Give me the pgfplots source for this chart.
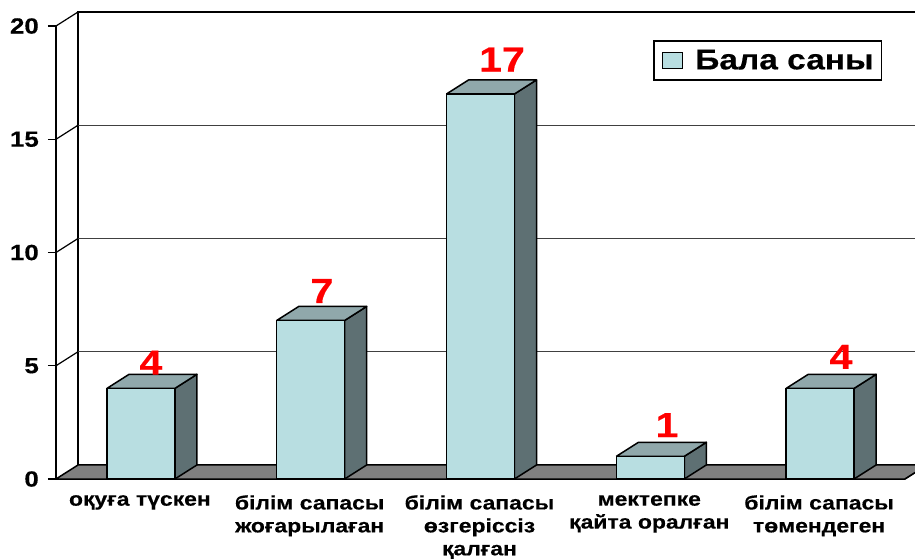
\documentclass[border=0pt]{standalone}
\usepackage{fontspec}
\setmainfont[FakeStretch=1.18,BoldFont={Liberation Sans Bold},BoldFeatures={FakeStretch=1.18,FakeBold=0.4}]{Liberation Sans}
\usepackage{pgfplots}
\usepackage{pgfplotstable}
\pgfplotsset{compat=1.18}

\definecolor{barfront}{HTML}{B8DEE1}
\definecolor{bartop}{HTML}{90A8AB}
\definecolor{barside}{HTML}{5E7073}
\definecolor{floorgray}{HTML}{808080}

% bar values
\pgfplotstableread{
x   value
0.5 4
1.5 7
2.5 17
3.5 1
4.5 4
}\bardata

% where the red value labels sit
\pgfplotstableread{
x     y     value
0.559 5.14  4
1.566 8.30  7
2.627 18.52 17
3.598 2.38  1
4.623 5.39  4
}\labeldata

% depth of the fake 3d: 22px across, 14px up
\newcommand{\dx}{0.13}
\newcommand{\dy}{0.62}

% side and top faces of one bar: centre, value
\newcommand{\barfaces}[2]{
  \addplot[forget plot,fill=barside,draw=black,line width=1.5bp,line join=round] coordinates {
    ({#1+0.2},0) ({#1+0.2+\dx},\dy) ({#1+0.2+\dx},{#2+\dy}) ({#1+0.2},#2) ({#1+0.2},0)};
  \addplot[forget plot,fill=bartop,draw=black,line width=1.5bp,line join=round] coordinates {
    ({#1-0.2},#2) ({#1-0.2+\dx},{#2+\dy}) ({#1+0.2+\dx},{#2+\dy}) ({#1+0.2},#2) ({#1-0.2},#2)};
}

\begin{document}
\begin{tikzpicture}
\path[use as bounding box] (-56bp,-80bp) rectangle (859bp,479bp);
\begin{axis}[
    scale only axis,
    width=849bp,
    height=453bp,
    xmin=0, xmax=5,
    ymin=0, ymax=20,
    clip=false,
    axis x line*=bottom,
    axis y line*=left,
    axis line style={line width=1.5bp},
    font=\bfseries,
    xtick={0.5,1.5,2.5,3.5,4.5},
    xticklabels={{оқуға түскен},{білім сапасы\\жоғарылаған},{білім сапасы\\өзгеріссіз\\қалған},{мектепке\\қайта оралған},{білім сапасы\\төмендеген}},
    minor xtick={0,1,2,3,4,5},
    ytick={0,5,10,15,20},
    tick align=outside,
    major tick length=8bp,
    minor tick length=6bp,
    xtick style={draw=none},
    ytick style={line width=1.2bp,black},
    minor tick style={line width=1.2bp,black},
    /pgf/number format/assume math mode=true,
    x tick label style={font=\fontsize{19.5}{23}\selectfont\bfseries,align=center,text width=168bp,anchor=north,yshift=-8bp,xshift=-1bp,inner sep=0pt},
    y tick label style={font=\fontsize{22}{24}\selectfont\bfseries,inner sep=0pt,xshift=-9bp},
    legend style={at={(axis cs:3.516,19.38)},anchor=north west,draw=black,line width=1.5bp,
      font=\fontsize{28.5}{30}\selectfont\bfseries,inner xsep=6bp,inner ysep=7bp},
    legend image code/.code={
      \draw[fill=barfront,draw=black,line width=1bp] (2bp,-8bp) rectangle (22bp,8bp);
      \path (0bp,0bp) (32bp,0bp);
    },
]
% floor
\addplot[forget plot,fill=floorgray,draw=black,line width=1.5bp] coordinates {
  (0,0) (0.13,0.62) (5.13,0.62) (5,0) (0,0)};
% back wall and gridlines
\addplot[forget plot,black,line width=1.5bp] coordinates {(0.13,0.62) (0.13,20.62) (5.13,20.62)};
\addplot[forget plot,black!75,line width=1.4bp] coordinates {(0.13,5.62) (5.13,5.62)};
\addplot[forget plot,black!75,line width=1.4bp] coordinates {(0.13,10.62) (5.13,10.62)};
\addplot[forget plot,black!75,line width=1.4bp] coordinates {(0.13,15.62) (5.13,15.62)};
% wall side ticks
\addplot[forget plot,black,line width=1.2bp] coordinates {(0,5) (0.13,5.62)};
\addplot[forget plot,black,line width=1.2bp] coordinates {(0,10) (0.13,10.62)};
\addplot[forget plot,black,line width=1.2bp] coordinates {(0,15) (0.13,15.62)};
\addplot[forget plot,black,line width=1.2bp] coordinates {(0,20) (0.13,20.62)};
\addplot[forget plot,black,line width=1.2bp] coordinates {(5,0) (5.13,0.62)};
% value labels
\addplot[forget plot,draw=none,mark=none,point meta=explicit symbolic,
  nodes near coords,
  every node near coord/.style={anchor=center,inner sep=0pt,text=red,font=\fontsize{35}{35}\selectfont\bfseries}]
  table[x=x,y=y,meta=value] {\labeldata};
% bars
\barfaces{0.5}{4}
\barfaces{1.5}{7}
\barfaces{2.5}{17}
\barfaces{3.5}{1}
\barfaces{4.5}{4}
\addplot[ybar,bar width=68bp,fill=barfront,draw=black,line width=1.5bp]
  table[x=x,y=value] {\bardata};
\addlegendentry{Бала саны}
\end{axis}
\end{tikzpicture}
\end{document}
